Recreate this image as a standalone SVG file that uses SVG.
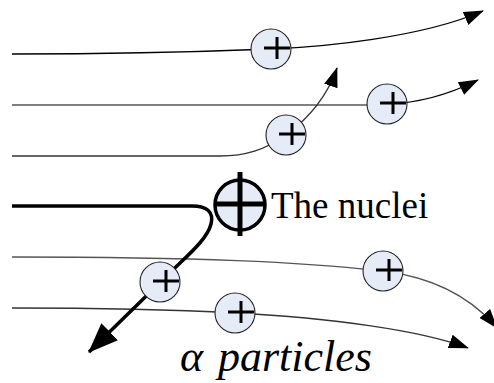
<svg xmlns="http://www.w3.org/2000/svg" width="494" height="383" viewBox="0 0 494 383">
<style>
.trk{fill:none;stroke:#000;stroke-width:1.3}
.gray{fill:none;stroke:#808080;stroke-width:2}
.p{fill:#e6ecf7;stroke:#222;stroke-width:1.1}
.plus{stroke:#000;stroke-width:3;fill:none}
.serif{font-family:'Times New Roman','Liberation Serif',Times,'DejaVu Serif',serif;fill:#000}
</style>
<defs>
<marker id="ah" markerUnits="userSpaceOnUse" markerWidth="20" markerHeight="14" refX="19" refY="7" orient="auto">
<path d="M0,0 L20,7 L0,14 z" fill="#000"/>
</marker>
<marker id="ahb" markerUnits="userSpaceOnUse" markerWidth="30" markerHeight="24" refX="29" refY="12" orient="auto">
<path d="M0,0 L30,12 L0,24 z" fill="#000"/>
</marker>
<g id="charge">
<circle cx="0" cy="0" r="20" class="p"/>
<path class="plus" d="M-7,-1 H19 M6,-12 V10"/>
</g>
</defs>
<g id="connectors">
<path class="trk" d="M12,54 C150,54 220,51 271,49 S420,38 483,11" marker-end="url(#ah)"/>
<path class="gray" d="M12,105 H382"/>
<path class="trk" d="M387,104 C420,103 450,94 478,80" marker-end="url(#ah)"/>
<path class="trk" style="stroke:#333" d="M12,156 H220 C245,156 265,150 286,135 C305,121 326,100 337,68" marker-end="url(#ah)"/>
<path class="trk" style="stroke:#555" d="M12,257 C200,257 300,262 383,271 C430,277 470,296 497,328" marker-end="url(#ah)"/>
<path class="trk" style="stroke:#333" d="M12,308 C120,308 180,310 235,313 C330,318 420,330 468,348" marker-end="url(#ah)"/>
<path fill="none" stroke="#000" stroke-width="3.5" d="M12,206 H192 C207,206 214,212 211,224 C208,236 195,249 180,263 L89,352" marker-end="url(#ahb)"/>
</g>
<g id="p1"><use href="#charge" x="271" y="49"/></g>
<g id="p2"><use href="#charge" x="387" y="104"/></g>
<g id="p3"><use href="#charge" x="286" y="135"/></g>
<g id="p4"><use href="#charge" x="383" y="271"/></g>
<g id="p5"><use href="#charge" x="160" y="282"/></g>
<g id="p6"><use href="#charge" x="235" y="313"/></g>
<g id="nucleus">
<circle cx="240" cy="205" r="25" fill="#e6ecf7" stroke="#000" stroke-width="3.5"/>
<path d="M240,172 V236 M215,204 H265" stroke="#000" stroke-width="5" fill="none"/>
<text class="serif" x="271" y="218" font-size="37">The nuclei</text>
</g>
<g id="caption">
<text class="serif" font-style="italic" font-size="44" y="371"><tspan x="180">α</tspan><tspan x="218">particles</tspan></text>
</g>
</svg>
